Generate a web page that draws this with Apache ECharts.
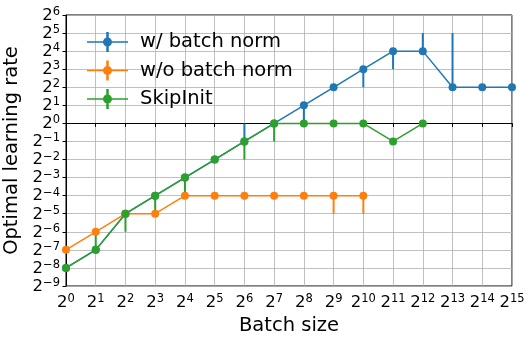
<!DOCTYPE html>
<html>
<head>
<meta charset="utf-8">
<script src="https://cdn.jsdelivr.net/npm/echarts@6/dist/echarts.min.js"></script>
<style>
  html, body { margin: 0; padding: 0; background: #fff; }
  #chart { width: 531px; height: 342px; }
</style>
</head>
<body>
<div id="chart"></div>
<script>
// batch size and learning rate are stored as log2 exponents
var batchExp = [0, 1, 2, 3, 4, 5, 6, 7, 8, 9, 10, 11, 12, 13, 14, 15];
var xTicks = [0, 1, 2, 3, 4, 5, 6, 7, 8, 9, 10, 11, 12, 13, 14, 15];
var yTicks = [-9, -8, -7, -6, -5, -4, -3, -2, -1, 0, 1, 2, 3, 4, 5, 6];

var bnLr   = [-8, -7, -5, -4, -3, -2, -1, 0, 1, 2, 3, 4, 4, 2, 2, 2];
var bnLo   = [null, null, null, null, null, null, -1, null, 0, null, 2, 3, 4, 2, null, null];
var bnHi   = [null, null, null, null, null, null, 0, null, 1, null, 3, 4, 5, 5, null, null];

var noBnLr = [-7, -6, -5, -5, -4, -4, -4, -4, -4, -4, -4];
var noBnLo = [null, null, null, null, null, null, null, null, null, -5, -5];
var noBnHi = [null, null, null, null, null, null, null, null, null, -4, -4];

var skipLr = [-8, -7, -5, -4, -3, -2, -1, 0, 0, 0, 0, -1, 0];
var skipLo = [null, -7, -6, -5, -4, null, -2, -1, null, null, null, null, null];
var skipHi = [null, -6, -5, -4, -3, null, -1, 0, null, null, null, null, null];

var names = ['w/ batch norm', 'w/o batch norm', 'SkipInit'];
var colors = ['#1f77b4', '#ff7f0e', '#2ca02c'];

var FONT = 'DejaVu Sans';

function pts(ys) {
    var out = [];
    for (var i = 0; i < ys.length; i++) out.push([batchExp[i], ys[i]]);
    return out;
}
function errs(lo, hi) {
    var out = [];
    for (var i = 0; i < lo.length; i++) {
        if (lo[i] !== null) out.push([batchExp[i], lo[i], hi[i]]);
    }
    return out;
}
function powLabel(v) {
    var e = String(v).replace('-', '\u2212');
    return '{b|2}{s|' + e + '}';
}

var richLab = {
    b: { fontFamily: FONT, fontSize: 16.5, color: '#000', lineHeight: 18, verticalAlign: 'bottom' },
    s: { fontFamily: FONT, fontSize: 11.5, color: '#000', lineHeight: 8, verticalAlign: 'top' }
};

// matplotlib-like legend handle: line + marker + vertical error bar
var legendIcon = 'path://M0,9.25H41V10.75H0Z M19.25,0H21.75V20H19.25Z M16,10A4.5,4.5 0 1,1 25,10A4.5,4.5 0 1,1 16,10Z';

function lineSeries(k, ys) {
    return {
        name: names[k],
        type: 'line',
        data: pts(ys),
        color: colors[k],
        symbol: 'circle',
        symbolSize: 8,
        lineStyle: { width: 1.5, color: colors[k] },
        itemStyle: { color: colors[k] },
        animation: false
    };
}
function errSeries(k, lo, hi) {
    return {
        type: 'custom',
        data: errs(lo, hi),
        encode: { x: 0, y: [1, 2] },
        renderItem: function (params, api) {
            var a = api.coord([api.value(0), api.value(1)]);
            var b = api.coord([api.value(0), api.value(2)]);
            return {
                type: 'line',
                shape: { x1: a[0], y1: a[1], x2: b[0], y2: b[1] },
                style: { stroke: colors[k], lineWidth: 2 }
            };
        },
        animation: false
    };
}

var chart = echarts.init(document.getElementById('chart'), null, { renderer: 'canvas' });
chart.setOption({
    backgroundColor: '#fff',
    animation: false,
    grid: {
        left: 66, right: 19, top: 15, bottom: 56,
        outerBoundsMode: 'none',
        containLabel: false,
        show: true, borderColor: '#000', borderWidth: 1, backgroundColor: 'transparent'
    },
    legend: {
        data: names,
        orient: 'vertical',
        left: 82,
        top: 27,
        itemWidth: 41,
        itemHeight: 20,
        itemGap: 8.5,
        icon: legendIcon,
        textStyle: { fontFamily: FONT, fontSize: 19.5, color: '#000', lineHeight: 20, padding: [0, 0, 0, 7] }
    },
    xAxis: {
        type: 'value',
        min: 0, max: 15, interval: 1,
        name: 'Batch size',
        nameLocation: 'middle',
        nameGap: 30,
        nameTextStyle: { fontFamily: FONT, fontSize: 19.5, color: '#000' },
        axisLine: { show: true, lineStyle: { color: '#000', width: 1 } },
        axisTick: { show: true, length: 3.5, lineStyle: { color: '#000', width: 1 } },
        axisLabel: { margin: 7, interval: 0, hideOverlap: false, formatter: powLabel, rich: richLab, showMinLabel: true, showMaxLabel: true },
        splitLine: { show: true, lineStyle: { color: '#b0b0b0', width: 0.8 } }
    },
    yAxis: {
        type: 'value',
        min: -9, max: 6, interval: 1,
        name: 'Optimal learning rate',
        nameLocation: 'middle',
        nameGap: 41,
        nameRotate: 90,
        nameTextStyle: { fontFamily: FONT, fontSize: 19.5, color: '#000' },
        axisLine: { show: true, lineStyle: { color: '#000', width: 1 } },
        axisTick: { show: true, length: 3.5, lineStyle: { color: '#000', width: 1 } },
        axisLabel: { margin: 6, interval: 0, hideOverlap: false, formatter: powLabel, rich: richLab, showMinLabel: true, showMaxLabel: true },
        splitLine: { show: true, lineStyle: { color: '#b0b0b0', width: 0.8 } }
    },
    series: [
        lineSeries(0, bnLr), errSeries(0, bnLo, bnHi),
        lineSeries(1, noBnLr), errSeries(1, noBnLo, noBnHi),
        lineSeries(2, skipLr), errSeries(2, skipLo, skipHi)
    ]
});
</script>
</body>
</html>
